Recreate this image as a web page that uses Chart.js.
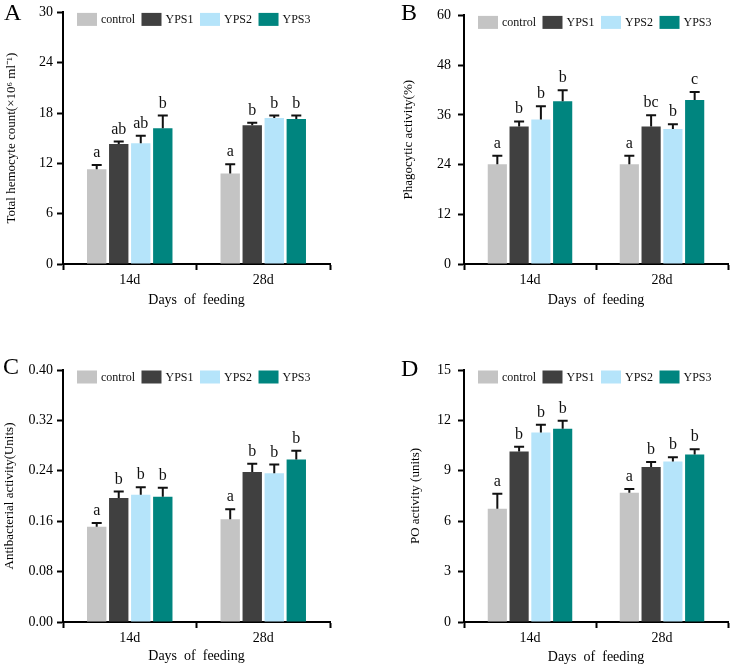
<!DOCTYPE html>
<html>
<head>
<meta charset="utf-8">
<script src="https://cdn.jsdelivr.net/npm/chart.js@4.4.0/dist/chart.umd.min.js"></script>
<style>
  body { margin: 0; background: #fff; }
  #wrap { position: relative; width: 732px; height: 666px; }
  canvas { position: absolute; }
</style>
</head>
<body>
<div id="wrap">
  <canvas id="chartA" width="366" height="333" style="left:0;top:0"></canvas>
  <canvas id="chartB" width="366" height="333" style="left:366px;top:0"></canvas>
  <canvas id="chartC" width="366" height="333" style="left:0;top:333px"></canvas>
  <canvas id="chartD" width="366" height="333" style="left:366px;top:333px"></canvas>
</div>
<script>
const days = ['14d', '28d'];
const groups = ['control', 'YPS1', 'YPS2', 'YPS3'];

// one row per group, values for [14d, 28d]
const thcMean = [[11.3, 10.8], [14.3, 16.55], [14.4, 17.4], [16.2, 17.3]];
const thcErr = [[0.5, 1.1], [0.3, 0.3], [0.9, 0.3], [1.5, 0.4]];
const thcLetters = [['a', 'a'], ['ab', 'b'], ['ab', 'b'], ['b', 'b']];

const phagoMean = [[24.1, 24.1], [33.2, 33.2], [34.9, 32.6], [39.25, 39.6]];
const phagoErr = [[2.0, 2.0], [1.2, 2.7], [3.2, 1.1], [2.7, 1.9]];
const phagoLetters = [['a', 'a'], ['b', 'bc'], ['b', 'b'], ['b', 'c']];

const antiMean = [[0.151, 0.163], [0.197, 0.238], [0.202, 0.236], [0.199, 0.258]];
const antiErr = [[0.006, 0.016], [0.010, 0.013], [0.012, 0.014], [0.014, 0.014]];
const antiLetters = [['a', 'a'], ['b', 'b'], ['b', 'b'], ['b', 'b']];

const poMean = [[6.74, 7.7], [10.15, 9.22], [11.28, 9.56], [11.5, 9.97]];
const poErr = [[0.9, 0.22], [0.28, 0.3], [0.46, 0.24], [0.48, 0.32]];
const poLetters = [['a', 'a'], ['b', 'b'], ['b', 'b'], ['b', 'b']];

const barColors = ['#c4c4c4', '#404040', '#b5e4fa', '#00857f'];
const serif = "'Liberation Serif', 'Times New Roman', serif";

// error bars, significance letters, legend and panel tag
const extras = {
  id: 'extras',
  afterDatasetsDraw(chart) {
    const ctx = chart.ctx;
    const yScale = chart.scales.y;
    ctx.save();
    ctx.strokeStyle = '#111';
    ctx.fillStyle = '#111';
    ctx.lineWidth = 2;
    ctx.font = '16px ' + serif;
    ctx.textAlign = 'center';
    ctx.textBaseline = 'alphabetic';
    chart.data.datasets.forEach((ds, i) => {
      chart.getDatasetMeta(i).data.forEach((bar, j) => {
        const top = yScale.getPixelForValue(ds.data[j] + ds.errors[j]);
        ctx.beginPath();
        ctx.moveTo(bar.x, bar.y);
        ctx.lineTo(bar.x, top);
        ctx.moveTo(bar.x - 5, top);
        ctx.lineTo(bar.x + 5, top);
        ctx.stroke();
        ctx.fillText(ds.letters[j], bar.x, top - 8);
      });
    });
    ctx.restore();
  },
  afterDraw(chart, args, opts) {
    const ctx = chart.ctx;
    const area = chart.chartArea;
    ctx.save();
    let x = area.left + 14;
    const cy = area.top + 7;
    ctx.font = '12px ' + serif;
    ctx.textAlign = 'left';
    ctx.textBaseline = 'middle';
    chart.data.datasets.forEach((ds) => {
      ctx.fillStyle = ds.backgroundColor;
      ctx.fillRect(x, cy - 6.5, 20, 13);
      x += 24;
      ctx.fillStyle = '#111';
      ctx.fillText(ds.label, x, cy + 0.5);
      x += ctx.measureText(ds.label).width + 6.5;
    });
    ctx.font = '24px ' + serif;
    ctx.textBaseline = 'alphabetic';
    ctx.fillStyle = '#000';
    ctx.fillText(opts.tag, opts.tagX, opts.tagY);
    ctx.restore();
  }
};

function makePanel(id, p) {
  new Chart(document.getElementById(id), {
    type: 'bar',
    data: {
      labels: days,
      datasets: groups.map((g, i) => ({
        label: g,
        data: p.means[i],
        errors: p.errs[i],
        letters: p.letters[i],
        backgroundColor: barColors[i],
        borderWidth: 0,
        categoryPercentage: 0.66,
        barPercentage: 0.88
      }))
    },
    options: {
      responsive: false,
      animation: false,
      devicePixelRatio: 1,
      layout: { padding: p.pad },
      plugins: {
        legend: { display: false },
        tooltip: { enabled: false },
        extras: { tag: p.tag, tagX: p.tagX, tagY: p.tagY }
      },
      scales: {
        x: {
          border: { color: '#000', width: 2 },
          grid: { drawOnChartArea: false, drawTicks: true, tickLength: 6, tickColor: '#000', tickWidth: 2 },
          ticks: { color: '#000', padding: 2, font: { family: serif, size: 14 } },
          title: {
            display: true, text: 'Days  of  feeding', color: '#000',
            font: { family: serif, size: 14 }, padding: { top: 0, bottom: p.xTitlePad }
          },
          afterFit: (s) => { s.height = p.xHeight; }
        },
        y: {
          min: 0,
          max: p.max,
          border: { color: '#000', width: 2 },
          grid: { drawOnChartArea: false, drawTicks: true, tickLength: 6, tickColor: '#000', tickWidth: 2 },
          ticks: {
            stepSize: p.step, color: '#000', padding: p.yTickPad,
            font: { family: serif, size: 14 },
            callback: (v) => v.toFixed(p.decimals)
          },
          title: {
            display: true, text: p.title, color: '#000',
            font: { family: serif, size: 13 }, padding: { top: p.yTitlePad, bottom: 0 }
          },
          afterFit: (s) => { s.width = p.yWidth; }
        }
      }
    },
    plugins: [extras]
  });
}

makePanel('chartA', {
  means: thcMean, errs: thcErr, letters: thcLetters, max: 30, step: 6, decimals: 0,
  title: 'Total hemocyte count(×10⁶ ml⁻¹)', tag: 'A', tagX: 4, tagY: 20,
  pad: { top: 12, right: 36, bottom: 0, left: 0 }, yWidth: 63, xHeight: 69,
  yTitlePad: 4, yTickPad: 4, xTitlePad: 24
});
makePanel('chartB', {
  means: phagoMean, errs: phagoErr, letters: phagoLetters, max: 60, step: 12, decimals: 0,
  title: 'Phagocytic activity(%)', tag: 'B', tagX: 35, tagY: 20,
  pad: { top: 12, right: 4, bottom: 0, left: 0 }, yWidth: 98, xHeight: 69,
  yTitlePad: 35, yTickPad: 7, xTitlePad: 24
});
makePanel('chartC', {
  means: antiMean, errs: antiErr, letters: antiLetters, max: 0.4, step: 0.08, decimals: 2,
  title: 'Antibacterial activity(Units)', tag: 'C', tagX: 3, tagY: 41,
  pad: { top: 37, right: 36, bottom: 0, left: 0 }, yWidth: 63, xHeight: 44,
  yTitlePad: 2, yTickPad: 4, xTitlePad: 1
});
makePanel('chartD', {
  means: poMean, errs: poErr, letters: poLetters, max: 15, step: 3, decimals: 0,
  title: 'PO activity (units)', tag: 'D', tagX: 35, tagY: 43,
  pad: { top: 37, right: 4, bottom: 0, left: 0 }, yWidth: 98, xHeight: 44,
  yTitlePad: 42, yTickPad: 7, xTitlePad: 0
});
</script>
</body>
</html>
